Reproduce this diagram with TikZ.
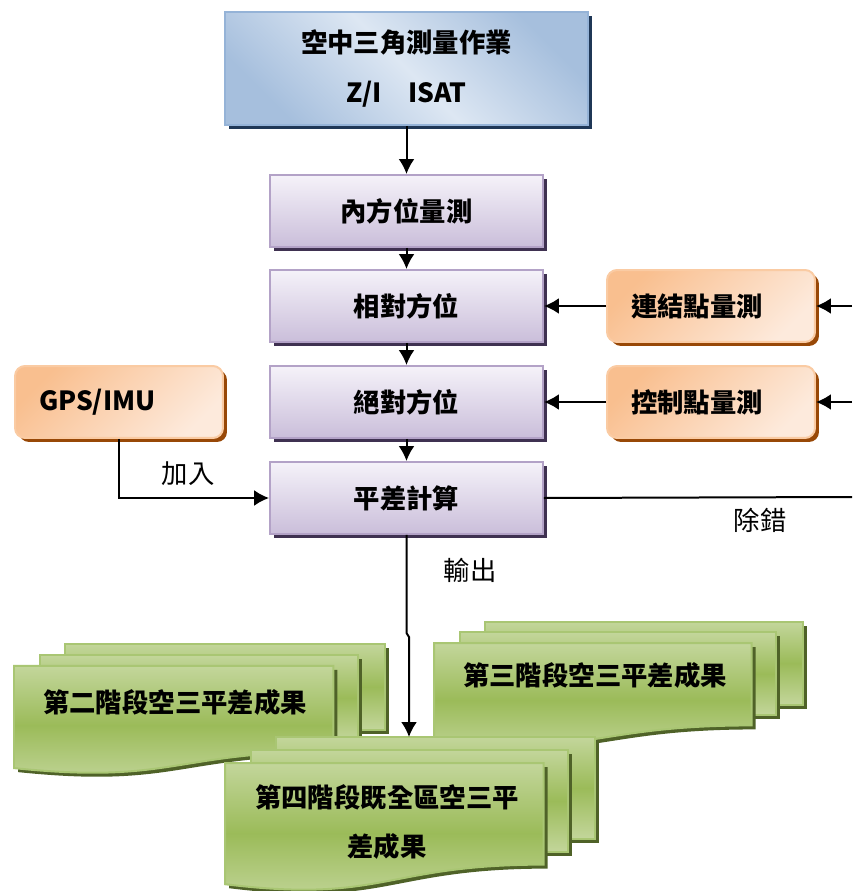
\documentclass[tikz,border=0pt]{standalone}
\usepackage{fontspec}
\setmainfont{Noto Sans CJK TC}
\usetikzlibrary{arrows.meta,shadows}

\definecolor{bluelight}{HTML}{DDE7F3}
\definecolor{bluedark}{HTML}{A6BFDD}
\definecolor{blueline}{HTML}{95B3D7}
\definecolor{blueshadow}{HTML}{1F3756}
\definecolor{purptop}{HTML}{F5F2F9}
\definecolor{purpbot}{HTML}{CABEDA}
\definecolor{purpline}{HTML}{B3A2C7}
\definecolor{purpshadow}{HTML}{3F3151}
\definecolor{orgdark}{HTML}{F9BF8F}
\definecolor{orglight}{HTML}{FDEADC}
\definecolor{orgline}{HTML}{FACBA3}
\definecolor{orgshadow}{HTML}{984807}
\definecolor{grnlight}{HTML}{C3D69B}
\definecolor{grn}{HTML}{9BBB59}
\definecolor{grnline}{HTML}{A9C673}
\definecolor{grnshadow}{HTML}{4F6228}

% front page of a stack (x, y, width, height)
\newcommand{\frontpage}[4]{(#1,#2+0.17*#4) -- (#1+0.861*#3,#2+0.17*#4) -- (#1+0.861*#3,#2+0.834*#4)
  .. controls (#1+0.43*#3,#2+0.834*#4) and (#1+0.43*#3,#2+1.09*#4) .. (#1,#2+0.962*#4) -- cycle}

% three stacked pages (x, y, width, height)
\newcommand{\docstack}[4]{%
  % back page
  \fill[grnshadow] (#1+0.138*#3+4,#2+4) rectangle (#1+#3+4,#2+0.666*#4+4);
  \draw[docpage] (#1+0.138*#3,#2) rectangle (#1+#3,#2+0.666*#4);
  % middle page
  \fill[grnshadow] (#1+0.071*#3+4,#2+0.084*#4+4) rectangle (#1+0.926*#3+4,#2+0.752*#4+4);
  \draw[docpage] (#1+0.071*#3,#2+0.084*#4) rectangle (#1+0.926*#3,#2+0.752*#4);
  % front page
  \fill[grnshadow, shift={(4,4)}] \frontpage{#1}{#2}{#3}{#4};
  \draw[docpage] \frontpage{#1}{#2}{#3}{#4};
}

\begin{document}
\begin{tikzpicture}
        [x=0.02cm, y=-0.02cm,
        box/.style={draw, line width=0.04cm, inner sep=0pt, align=center,
          font=\bfseries\fontsize{15}{28}\selectfont},
        topbox/.style={box, draw=blueline, minimum width=7.26cm, minimum height=2.26cm,
          top color=bluedark, bottom color=bluedark, middle color=bluelight, shading angle=-45,
          drop shadow={shadow xshift=0.08cm, shadow yshift=-0.08cm, fill=blueshadow, opacity=1}},
        stepbox/.style={box, draw=purpline, minimum width=5.46cm, minimum height=1.44cm,
          top color=purptop, bottom color=purpbot,
          drop shadow={shadow xshift=0.08cm, shadow yshift=-0.08cm, fill=purpshadow, opacity=1}},
        inputbox/.style={box, draw=orgline, rounded corners=0.2cm, align=left,
          text width=3.2cm, inner xsep=0.48cm, minimum height=1.44cm,
          top color=orgdark, bottom color=orglight, shading angle=45,
          drop shadow={shadow xshift=0.08cm, shadow yshift=-0.08cm, fill=orgshadow, opacity=1}},
        docpage/.style={draw=grnline, line width=0.04cm,
          top color=grnlight, bottom color=grnlight, middle color=grn},
        doctext/.style={align=center, font=\bfseries\fontsize{15}{28}\selectfont},
        lbl/.style={font=\fontsize{15}{17}\selectfont},
        conn/.style={line width=0.04cm, -{Latex[length=0.3cm, width=0.32cm]}},
        wire/.style={line width=0.04cm}]

        \useasboundingbox (0,0) rectangle (852,891);

        % main steps
        \node[topbox] (zi) at (406.5,68.5) {空中三角測量作業\\Z/I\quad ISAT};
        \node[stepbox] (nfw) at (406.5,211) {內方位量測};
        \node[stepbox] (xd) at (406.5,306) {相對方位};
        \node[stepbox] (jd) at (406.5,402) {絕對方位};
        \node[stepbox] (pc) at (406.5,498) {平差計算};

        % measurements and data put in
        \node[inputbox] (ljd) at (711,306) {連結點量測};
        \node[inputbox] (kzd) at (711,402) {控制點量測};
        \node[inputbox] (gps) at (119,402) {GPS/IMU};

        % free ends at the right border
        \coordinate (rin1) at (852,306);
        \coordinate (rin2) at (852,402);
        \coordinate (rout) at (852,497);

        % results
        \docstack{14}{644}{371}{129}
        \node[doctext] (st2) at (175,702) {第二階段空三平差成果};
        \docstack{434}{622}{369}{124}
        \node[doctext] (st3) at (595,675) {第三階段空三平差成果};
        \docstack{225}{737}{370}{153}
        \node[doctext] (st4) at (387,822) {第四階段既全區空三平\\差成果};
        \coordinate (st4top) at (409,737);

        % labels
        \node[lbl] (jr) at (188,474) {加入};
        \node[lbl] (cc) at (760,520) {除錯};
        \node[lbl] (sc) at (470,570) {輸出};

        % flow
        \draw[conn] (zi) -- (nfw);
        \draw[conn] (nfw) -- (xd);
        \draw[conn] (xd) -- (jd);
        \draw[conn] (jd) -- (pc);
        \draw[conn] (rin1) -- (ljd);
        \draw[conn] (ljd) -- (xd);
        \draw[conn] (rin2) -- (kzd);
        \draw[conn] (kzd) -- (jd);
        \draw[conn] (gps.south) |- (pc.west);
        \draw[wire] (pc.east) -- (rout);
        \draw[conn] (pc.south) -- (406.5,633) -- (409,637) -- (st4top);

        \end{tikzpicture}
\end{document}
